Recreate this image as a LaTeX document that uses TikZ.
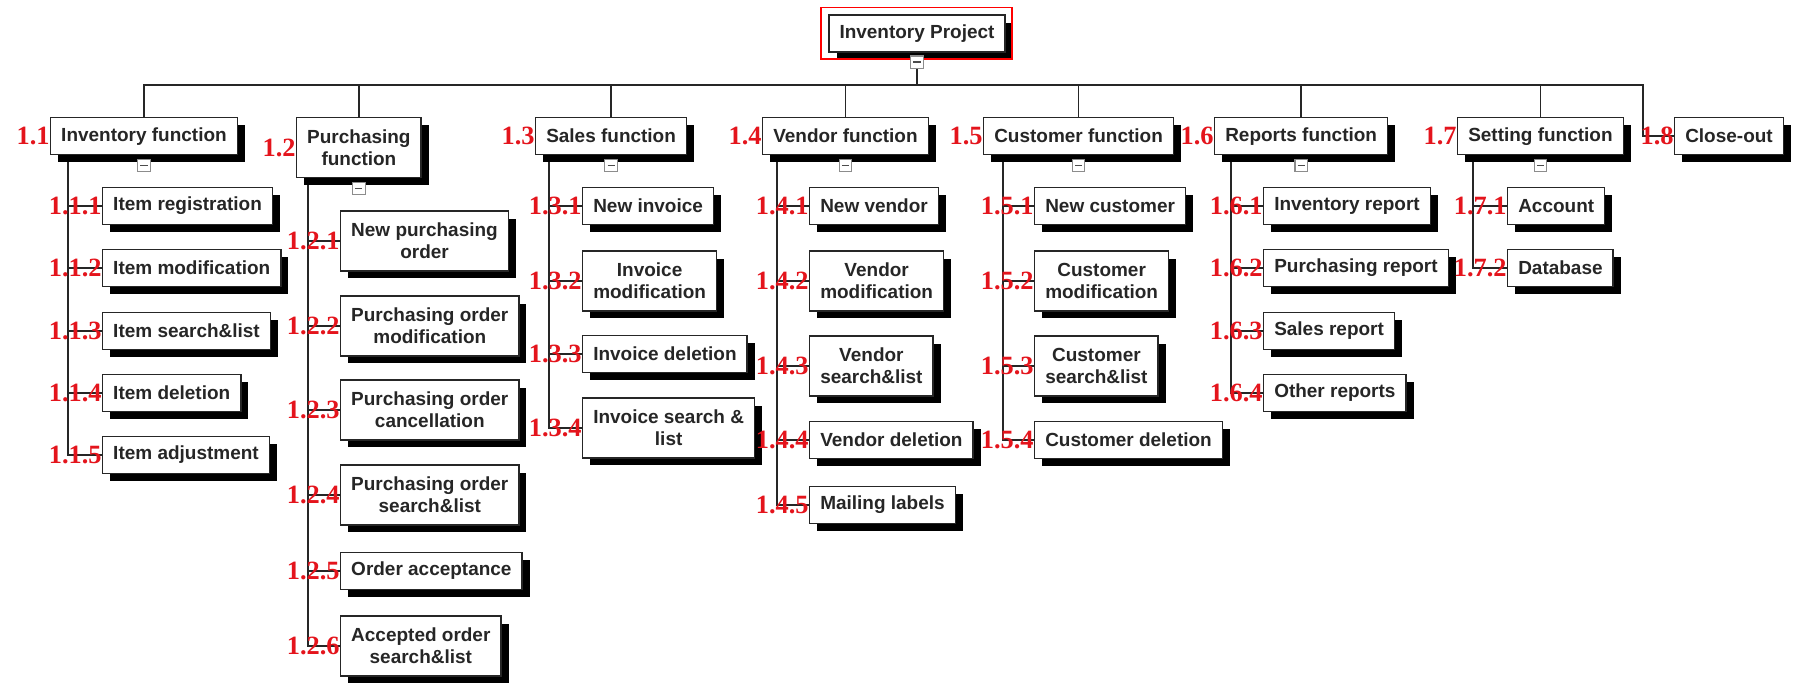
\documentclass[tikz,border=0pt]{standalone}
\usepackage{fontspec}
\setmainfont{Liberation Sans}
\newfontfamily\numfont{Liberation Serif}
\usetikzlibrary{shadows,backgrounds}
\definecolor{numred}{RGB}{228,20,28}
\tikzset{
  box/.style={draw=black!85, line width=0.8pt, fill=white, text=black!85,
    font=\fontsize{10.8}{12.6}\selectfont\bfseries, align=center,
    inner xsep=6pt, inner ysep=2pt, minimum height=21pt, label distance=1pt,
    drop shadow={shadow xshift=4.3pt, shadow yshift=-4.3pt, opacity=1, fill=black}},
  tall/.style={minimum height=34pt},
  num/.style={text=numred, font=\numfont\bfseries\fontsize{15}{15}\selectfont, inner sep=0pt},
  minus/.style={draw=black!45, fill=white, line width=0.6pt, minimum size=7pt, inner sep=0pt,
    path picture={\draw[black!70, line width=0.9pt] ([xshift=-2pt]path picture bounding box.center) -- ([xshift=2pt]path picture bounding box.center);}},
  link/.style={draw=black!85, line width=0.8pt}
}
\begin{document}
\begin{tikzpicture}[x=0.02cm, y=-0.02cm]
\useasboundingbox (0,0) rectangle (1798,684);
% top
\node[box] (root) at (917,33.5) {Inventory Project};
\draw[red, line width=0.9pt] ([shift={(-4pt,4pt)}]root.north west) rectangle ([shift={(3.6pt,-3.6pt)}]root.south east);
\node[minus] (mroot) at ([yshift=-5.4pt]root.south) {};
\coordinate (bus) at (917,85);
\coordinate (busend) at (1643,85);

% functions
\node[box, anchor=north west, label={[num,name=l11]left:1.1}] (f11) at (50,117) {Inventory function};
\node[box, tall, anchor=north west, label={[num,name=l12]left:1.2}] (f12) at (296,117) {Purchasing\\function};
\node[box, anchor=north west, label={[num,name=l13]left:1.3}] (f13) at (535,117) {Sales function};
\node[box, anchor=north west, label={[num,name=l14]left:1.4}] (f14) at (762,117) {Vendor function};
\node[box, anchor=north west, label={[num,name=l15]left:1.5}] (f15) at (983,117) {Customer function};
\node[box, anchor=north west, label={[num,name=l16]left:1.6}] (f16) at (1214,117) {Reports function};
\node[box, anchor=north west, label={[num,name=l17]left:1.7}] (f17) at (1457,117) {Setting function};
\node[box, anchor=north west, label={[num,name=l18]left:1.8}] (f18) at (1674,117) {Close-out};
\foreach \f in {f11,f12,f13,f14,f15,f16,f17}
  \node[minus] (m\f) at ([yshift=-5.9pt]\f.south) {};

% 1.1
\node[box, anchor=west, label={[num,name=l111]left:1.1.1}] (c111) at (102,206) {Item registration};
\node[box, anchor=west, label={[num,name=l112]left:1.1.2}] (c112) at (102,268) {Item modification};
\node[box, anchor=west, label={[num,name=l113]left:1.1.3}] (c113) at (102,331) {Item search\&list};
\node[box, anchor=west, label={[num,name=l114]left:1.1.4}] (c114) at (102,393) {Item deletion};
\node[box, anchor=west, label={[num,name=l115]left:1.1.5}] (c115) at (102,455) {Item adjustment};
% 1.2
\node[box, tall, anchor=west, label={[num,name=l121]left:1.2.1}] (c121) at (340,241) {New purchasing\\order};
\node[box, tall, anchor=west, label={[num,name=l122]left:1.2.2}] (c122) at (340,326) {Purchasing order\\modification};
\node[box, tall, anchor=west, label={[num,name=l123]left:1.2.3}] (c123) at (340,410) {Purchasing order\\cancellation};
\node[box, tall, anchor=west, label={[num,name=l124]left:1.2.4}] (c124) at (340,495) {Purchasing order\\search\&list};
\node[box, anchor=west, label={[num,name=l125]left:1.2.5}] (c125) at (340,571) {Order acceptance};
\node[box, tall, anchor=west, label={[num,name=l126]left:1.2.6}] (c126) at (340,646) {Accepted order\\search\&list};
% 1.3
\node[box, anchor=west, label={[num,name=l131]left:1.3.1}] (c131) at (582,206) {New invoice};
\node[box, tall, anchor=west, label={[num,name=l132]left:1.3.2}] (c132) at (582,281) {Invoice\\modification};
\node[box, anchor=west, label={[num,name=l133]left:1.3.3}] (c133) at (582,354) {Invoice deletion};
\node[box, tall, anchor=west, label={[num,name=l134]left:1.3.4}] (c134) at (582,428) {Invoice search \&\\list};
% 1.4
\node[box, anchor=west, label={[num,name=l141]left:1.4.1}] (c141) at (809,206) {New vendor};
\node[box, tall, anchor=west, label={[num,name=l142]left:1.4.2}] (c142) at (809,281) {Vendor\\modification};
\node[box, tall, anchor=west, label={[num,name=l143]left:1.4.3}] (c143) at (809,366) {Vendor\\search\&list};
\node[box, anchor=west, label={[num,name=l144]left:1.4.4}] (c144) at (809,440) {Vendor deletion};
\node[box, anchor=west, label={[num,name=l145]left:1.4.5}] (c145) at (809,505) {Mailing labels};
% 1.5
\node[box, anchor=west, label={[num,name=l151]left:1.5.1}] (c151) at (1034,206) {New customer};
\node[box, tall, anchor=west, label={[num,name=l152]left:1.5.2}] (c152) at (1034,281) {Customer\\modification};
\node[box, tall, anchor=west, label={[num,name=l153]left:1.5.3}] (c153) at (1034,366) {Customer\\search\&list};
\node[box, anchor=west, label={[num,name=l154]left:1.5.4}] (c154) at (1034,440) {Customer deletion};
% 1.6
\node[box, anchor=west, label={[num,name=l161]left:1.6.1}] (c161) at (1263,206) {Inventory report};
\node[box, anchor=west, label={[num,name=l162]left:1.6.2}] (c162) at (1263,268) {Purchasing report};
\node[box, anchor=west, label={[num,name=l163]left:1.6.3}] (c163) at (1263,331) {Sales report};
\node[box, anchor=west, label={[num,name=l164]left:1.6.4}] (c164) at (1263,393) {Other reports};
% 1.7
\node[box, anchor=west, label={[num,name=l171]left:1.7.1}] (c171) at (1507,206) {Account};
\node[box, anchor=west, label={[num,name=l172]left:1.7.2}] (c172) at (1507,268) {Database};

\begin{scope}[on background layer]
  \draw[link] (mroot) -- (bus);
  \foreach \f in {f11,f12,f13,f14,f15,f16,f17}
    \draw[link] (\f.north) |- (bus);
  \draw[link] (bus) -- (busend) |- (f18.west);
  \foreach \p/\dx/\kids in {f11/10.2pt/{c111,c112,c113,c114,c115},
      f12/6.8pt/{c121,c122,c123,c124,c125,c126}, f13/8pt/{c131,c132,c133,c134},
      f14/8.5pt/{c141,c142,c143,c144,c145}, f15/11.4pt/{c151,c152,c153,c154},
      f16/9.7pt/{c161,c162,c163,c164}, f17/9.1pt/{c171,c172}}
    \foreach \k in \kids
      \draw[link] ([xshift=\dx]\p.south west) |- (\k.west);
\end{scope}
\end{tikzpicture}
\end{document}
